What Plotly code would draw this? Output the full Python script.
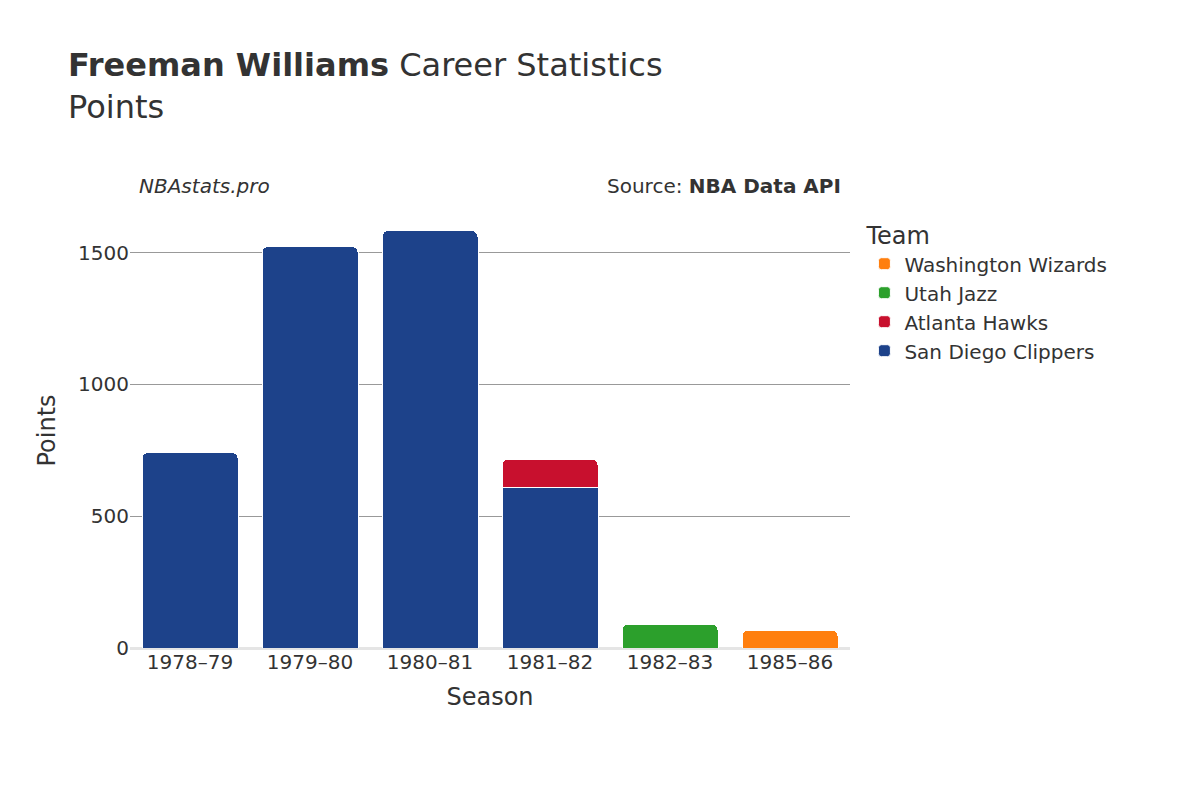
import plotly.graph_objects as go

seasons = ["1978–79", "1979–80", "1980–81", "1981–82", "1982–83", "1985–86"]
teams = ["San Diego Clippers", "Atlanta Hawks", "Utah Jazz", "Washington Wizards"]
colors = ["#1d428a", "#c8102e", "#2ca02c", "#ff7f0e"]
points = {
    "San Diego Clippers": [742, 1523, 1583, 610, None, None],
    "Atlanta Hawks": [None, None, None, 106, None, None],
    "Utah Jazz": [None, None, None, None, 91, None],
    "Washington Wizards": [None, None, None, None, None, 68],
}

fig = go.Figure()
for t, c in zip(teams, colors):
    fig.add_trace(go.Bar(x=seasons, y=points[t], name=t, marker_color=c,
                         marker_line_color="white", marker_line_width=1))

fig.update_layout(
    width=1200, height=800, barmode="stack", barcornerradius=6, bargap=0.2,
    font=dict(family="DejaVu Sans", size=20, color="#333"),
    plot_bgcolor="white", paper_bgcolor="white",
    margin=dict(l=122, r=358, t=205, b=160),
    title=dict(text="<b>Freeman Williams</b> Career Statistics<br>Points",
               x=0.05, xanchor="left", y=0.915, yanchor="top", font=dict(size=32)),
    xaxis=dict(title=dict(text="Season", font=dict(size=24)), tickfont=dict(size=20)),
    yaxis=dict(title=dict(text="Points", font=dict(size=24)), range=[0, 1650],
               tickvals=[0, 500, 1000, 1500], gridcolor="#999", zeroline=True,
               zerolinecolor="#e5e5e5", zerolinewidth=3, tickfont=dict(size=20)),
    legend=dict(title=dict(text="Team", font=dict(size=24)), x=1.02, y=1.0,
                yanchor="top", font=dict(size=20)),
    annotations=[
        dict(text="<i>NBAstats.pro</i>", xref="paper", yref="paper", x=0.01, y=1.03,
             xanchor="left", yanchor="bottom", showarrow=False, font=dict(size=20)),
        dict(text="Source: <b>NBA Data API</b>", xref="paper", yref="paper", x=0.99, y=1.03,
             xanchor="right", yanchor="bottom", showarrow=False, font=dict(size=20)),
    ],
)
fig.write_html("out.html")
